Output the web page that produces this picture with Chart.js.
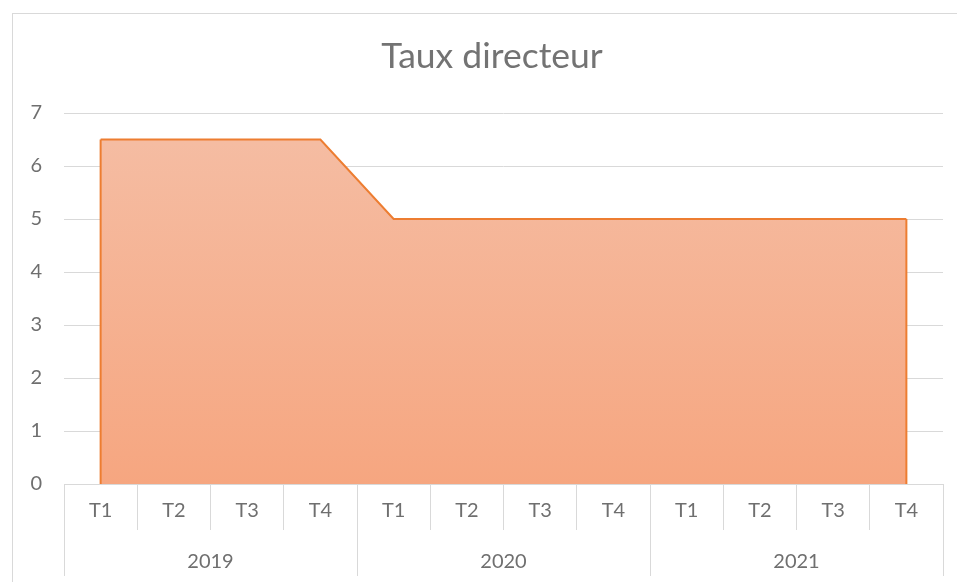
<!DOCTYPE html>
<html lang="fr">
<head>
<meta charset="utf-8">
<title>Taux directeur</title>
<script src="https://cdn.jsdelivr.net/npm/chart.js@4.4.0/dist/chart.umd.min.js"></script>
<style>
    body { margin: 0; background: #fff; }
    canvas { display: block; }
</style>
</head>
<body>
<canvas id="graficoTaux" width="957" height="582"></canvas>
<script>
const trimestres = ['T1', 'T2', 'T3', 'T4', 'T1', 'T2', 'T3', 'T4', 'T1', 'T2', 'T3', 'T4'];
const annees = ['2019', '2020', '2021'];
const taux = [6.5, 6.5, 6.5, 6.5, 5, 5, 5, 5, 5, 5, 5, 5];
const yMin = 0;
const yMax = 7;
const yPas = 1;

const gris = '#6f6f6f';
const grille = '#d9d9d9';
const police = 'Lato, "Open Sans", sans-serif';

// cadre du graphique (bord gauche et haut visibles)
const cadre = {
    id: 'cadre',
    beforeDraw(chart) {
        const ctx = chart.ctx;
        ctx.save();
        ctx.strokeStyle = grille;
        ctx.lineWidth = 1;
        ctx.strokeRect(12.5, 13.5, 2000, 2000);
        ctx.restore();
    }
};

const titre = {
    id: 'titre',
    afterDraw(chart) {
        const ctx = chart.ctx;
        ctx.save();
        ctx.fillStyle = '#737373';
        ctx.font = '35.5px ' + police;
        ctx.textAlign = 'center';
        ctx.textBaseline = 'middle';
        ctx.fillText('Taux directeur', 492, 57);
        ctx.restore();
    }
};

// bords verticaux de l'aire, comme dans Excel
const bordsAire = {
    id: 'bordsAire',
    afterDatasetsDraw(chart) {
        const meta = chart.getDatasetMeta(0);
        const y0 = chart.scales.y.getPixelForValue(0);
        const ctx = chart.ctx;
        ctx.save();
        ctx.strokeStyle = '#ED7D31';
        ctx.lineWidth = 2;
        [meta.data[0], meta.data[meta.data.length - 1]].forEach((pt) => {
            ctx.beginPath();
            ctx.moveTo(pt.x, pt.y);
            ctx.lineTo(pt.x, y0);
            ctx.stroke();
        });
        ctx.restore();
    }
};

function degrade(context) {
    const area = context.chart.chartArea;
    if (!area) return '#F6AE8C';
    const g = context.chart.ctx.createLinearGradient(0, area.top, 0, area.bottom);
    g.addColorStop(0, '#F5BEA5');
    g.addColorStop(1, '#F6A680');
    return g;
}

const graficoTaux = new Chart(document.getElementById('graficoTaux'), {
    type: 'line',
    data: {
        labels: trimestres,
        datasets: [{
            label: 'Taux directeur',
            data: taux,
            borderColor: '#ED7D31',
            borderWidth: 2,
            backgroundColor: degrade,
            fill: 'origin',
            pointRadius: 0,
            tension: 0
        }]
    },
    options: {
        responsive: false,
        animation: false,
        devicePixelRatio: 1,
        layout: { padding: { top: 113, right: 14, left: 0, bottom: 0 } },
        plugins: {
            legend: { display: false },
            tooltip: { enabled: false }
        },
        scales: {
            x: {
                type: 'category',
                offset: true,
                weight: 0,
                border: { display: true, color: grille, width: 1 },
                grid: { drawOnChartArea: false, offset: true, color: grille, tickLength: 46 },
                ticks: { color: gris, font: { family: police, size: 20 }, padding: -31, maxRotation: 0, autoSkip: false },
                afterFit(scale) { scale.height = 46; }
            },
            x2: {
                type: 'category',
                labels: annees,
                position: 'bottom',
                offset: true,
                weight: 1,
                border: { display: false },
                grid: { drawOnChartArea: false, offset: true, color: grille, tickLength: 46 },
                ticks: { color: gris, font: { family: police, size: 20 }, padding: -26, maxRotation: 0 },
                afterFit(scale) { scale.height = 52; }
            },
            y: {
                min: yMin,
                max: yMax,
                border: { display: false },
                grid: { color: grille, drawTicks: false },
                ticks: { stepSize: yPas, color: gris, font: { family: police, size: 20 }, padding: 22 },
                afterFit(scale) { scale.width = 64; }
            }
        }
    },
    plugins: [cadre, titre, bordsAire]
});
</script>
</body>
</html>
